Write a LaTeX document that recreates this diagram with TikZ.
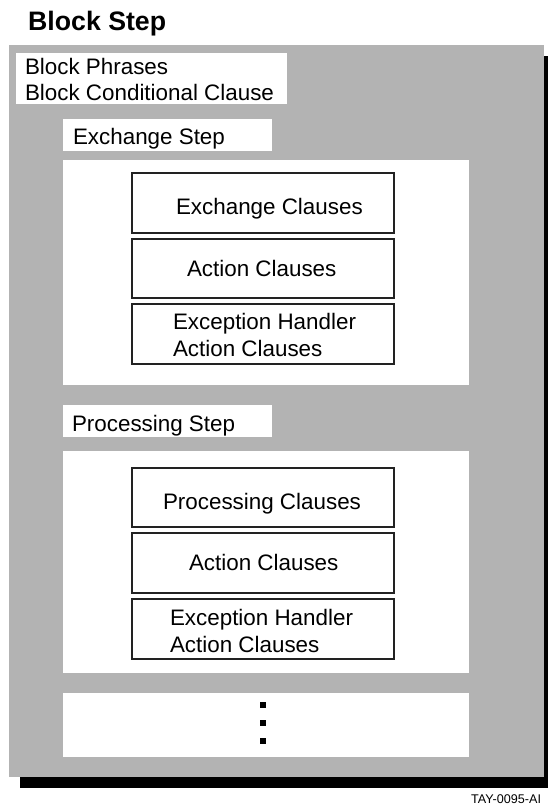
\documentclass[tikz,border=0pt]{standalone}
\usepackage{fontspec}
\setmainfont{Liberation Sans}
\definecolor{panelgray}{HTML}{B3B3B3}
\definecolor{boxline}{HTML}{222222}
\begin{document}
\begin{tikzpicture}[x=1pt,y=-1pt,
  lbl/.style={font=\fontsize{22.4}{26.5}\selectfont, inner sep=0pt, outer sep=0pt, anchor=base west},
  ttl/.style={font=\fontsize{26.7}{30}\selectfont\bfseries, inner sep=0pt, anchor=base west},
  foot/.style={font=\fontsize{12.6}{15}\selectfont, inner sep=0pt, anchor=base west},
  whitebox/.style={fill=white, draw=none, inner sep=0pt, outer sep=0pt, anchor=north west},
  clausebox/.style={fill=white, draw=boxline, line width=1.2pt, inner sep=0pt, outer sep=0pt, anchor=north west, minimum width=262pt, minimum height=60pt},
  dotsq/.style={fill=black, draw=none, inner sep=0pt, minimum size=6pt}]
\useasboundingbox (0,0) rectangle (547,806);
% title
\node[ttl] (title) at (28,30) {Block Step};
% shadow and panel
\fill[black] (20,56) rectangle (555,788);
\node[fill=panelgray, inner sep=0pt, outer sep=0pt, anchor=north west, minimum width=535pt, minimum height=732pt] (panel) at (9,45) {};
% block phrases
\node[whitebox, minimum width=271pt, minimum height=51pt] (phr) at (16,53) {};
\node[lbl] (phr1) at (25,74) {Block Phrases};
\node[lbl] (phr2) at (25,100) {Block Conditional Clause};
% exchange step
\node[whitebox, minimum width=209pt, minimum height=32pt] (exlbl) at (63,119) {};
\node[lbl] (exlbltxt) at (73,144) {Exchange Step};
\node[whitebox, minimum width=406pt, minimum height=225pt] (exreg) at (63,160) {};
\node[clausebox] (exc) at (132,173) {};
\node[lbl] (exctxt) at (176,214) {Exchange Clauses};
\node[clausebox, minimum height=59pt] (exa) at (132,239) {};
\node[lbl] (exatxt) at (187,276) {Action Clauses};
\node[clausebox] (exh) at (132,304) {};
\node[lbl] (exh1) at (173,329) {Exception Handler};
\node[lbl] (exh2) at (173,356) {Action Clauses};
% processing step
\node[whitebox, minimum width=209pt, minimum height=32pt] (prlbl) at (63,405) {};
\node[lbl] (prlbltxt) at (72,431) {Processing Step};
\node[whitebox, minimum width=406pt, minimum height=222pt] (prreg) at (63,451) {};
\node[clausebox, minimum height=59pt] (prc) at (132,468) {};
\node[lbl] (prctxt) at (163,509) {Processing Clauses};
\node[clausebox] (pra) at (132,533) {};
\node[lbl] (pratxt) at (189,570) {Action Clauses};
\node[clausebox] (prh) at (132,599) {};
\node[lbl] (prh1) at (170,625) {Exception Handler};
\node[lbl] (prh2) at (170,652) {Action Clauses};
% continuation
\node[whitebox, minimum width=406pt, minimum height=64pt] (more) at (63,693) {};
\node[dotsq] (d1) at (262.5,705) {};
\node[dotsq] (d2) at (262.5,723) {};
\node[dotsq] (d3) at (262.5,741) {};
% footer
\node[foot] (ref) at (471,803) {TAY-0095-AI};
\end{tikzpicture}
\end{document}
